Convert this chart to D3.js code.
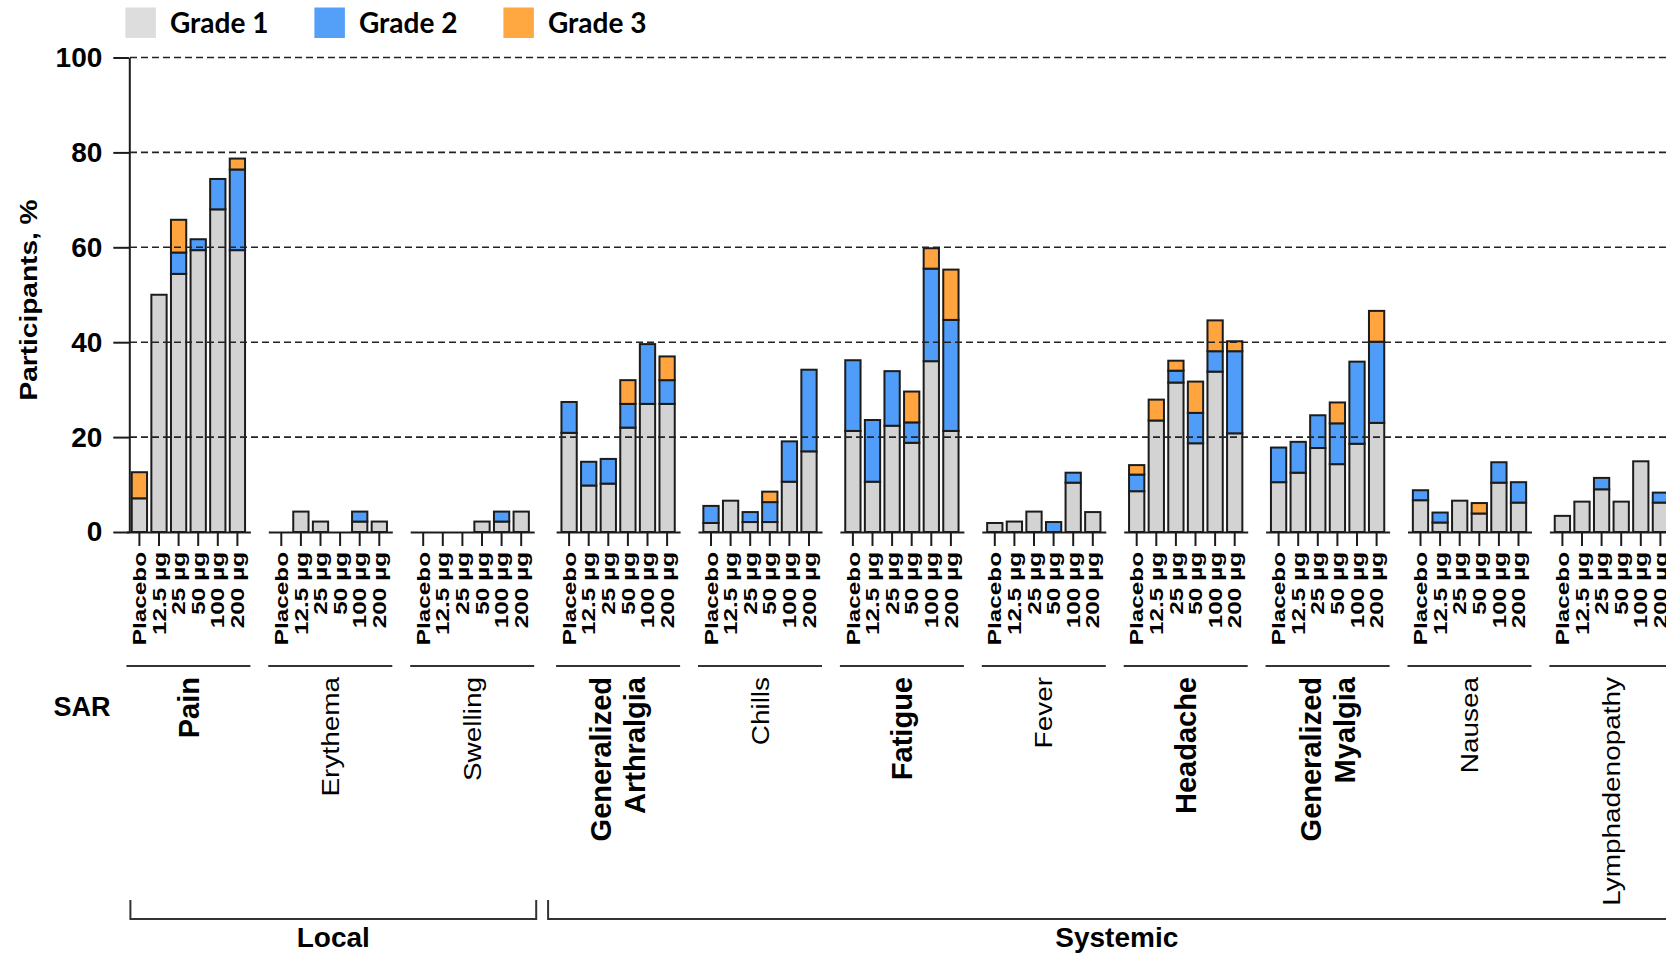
<!DOCTYPE html>
<html>
<head>
<meta charset="utf-8">
<script src="https://cdn.jsdelivr.net/npm/d3@7"></script>
<style>
  body { margin: 0; background: #fff; }
  svg { display: block; }
</style>
</head>
<body>
<div id="chart"></div>
<script>
// ---- data (% of participants) ----
const doses = ["Placebo", "12.5 µg", "25 µg", "50 µg", "100 µg", "200 µg"];
const reactions = ["Pain", "Erythema", "Swelling", "Generalized Arthralgia", "Chills", "Fatigue",
    "Fever", "Headache", "Generalized Myalgia", "Nausea", "Lymphadenopathy"];
const reactionType = ["Local", "Local", "Local", "Systemic", "Systemic", "Systemic",
    "Systemic", "Systemic", "Systemic", "Systemic", "Systemic"];
const gradeNames = ["Grade 1", "Grade 2", "Grade 3"];
const yTicks = [0, 20, 40, 60, 80, 100];

const grade1 = [
    [7.1, 50, 54.4, 59.4, 68, 59.4],
    [0, 4.3, 2.2, 0, 2.2, 2.2],
    [0, 0, 0, 2.2, 2.2, 4.3],
    [20.9, 9.8, 10.2, 22, 27, 27],
    [1.9, 6.6, 2.1, 2.1, 10.6, 17],
    [21.3, 10.6, 22.4, 18.8, 36, 21.3],
    [1.9, 2.2, 4.3, 0, 10.4, 4.2],
    [8.6, 23.5, 31.5, 18.7, 33.8, 20.8],
    [10.5, 12.5, 17.7, 14.3, 18.6, 23],
    [6.7, 2.0, 6.6, 3.9, 10.4, 6.2],
    [3.4, 6.4, 9.0, 6.4, 14.9, 6.2]
];
const grade2 = [
    [0, 0, 4.5, 2.3, 6.4, 17],
    [0, 0, 0, 0, 2.1, 0],
    [0, 0, 0, 0, 2.1, 0],
    [6.5, 5, 5.2, 5, 12.6, 5],
    [3.6, 0, 2.1, 4.2, 8.5, 17.2],
    [14.9, 13, 11.5, 4.3, 19.5, 23.4],
    [0, 0, 0, 2.1, 2.1, 0],
    [3.5, 0, 2.5, 6.4, 4.3, 17.3],
    [7.3, 6.5, 6.9, 8.6, 17.3, 17.1],
    [2.1, 2.1, 0, 0, 4.3, 4.3],
    [0, 0, 2.4, 0, 0, 2.1]
];
const grade3 = [
    [5.5, 0, 6.9, 0, 0, 2.3],
    [0, 0, 0, 0, 0, 0],
    [0, 0, 0, 0, 0, 0],
    [0, 0, 0, 5, 0, 5],
    [0, 0, 0, 2.2, 0, 0],
    [0, 0, 0, 6.5, 4.3, 10.6],
    [0, 0, 0, 0, 0, 0],
    [2.0, 4.4, 2.1, 6.6, 6.5, 2.1],
    [0, 0, 0, 4.4, 0, 6.5],
    [0, 0, 0, 2.2, 0, 0],
    [0, 0, 0, 0, 0, 0]
];

(() => {
    const width = 1666;
    const height = 955;
    const colors = ["#d3d3d3", "#4f9df8", "#ffa43e"];
    const legendColors = ["#dddddd", "#54a0f8", "#ffa842"];
    const ink = "#1c1c1c";
    const boldLabels = ["Pain", "Generalized Arthralgia", "Fatigue", "Headache", "Generalized Myalgia"];

    const svg = d3.select("#chart")
        .append("svg")
        .attr("width", width)
        .attr("height", height);

    const yScale = d3.scaleLinear().domain([0, 100]).range([532, 57.5]);

    // groups are laid out at a fixed step, systemic block nudged right a little
    const groupScale = d3.scaleBand()
        .domain(reactions)
        .range([126.4, 126.4 + reactions.length * 141.9])
        .padding(0);
    const groupX = (name, i) => groupScale(name) + (reactionType[i] === "Systemic" ? 4 : 0);
    const groupW = 124;

    const doseScale = d3.scaleBand()
        .domain(doses)
        .range([0, groupW])
        .paddingInner(0.22)
        .paddingOuter(0.273);

    // stacked data per reaction
    const stack = d3.stack().keys(["g1", "g2", "g3"]);

    reactions.forEach((name, i) => {
        const rows = doses.map((dose, j) => ({
            dose: dose,
            g1: grade1[i][j],
            g2: grade2[i][j],
            g3: grade3[i][j]
        }));
        const series = stack(rows);

        const g = svg.append("g")
            .attr("transform", `translate(${groupX(name, i)}, 0)`);

        series.forEach((s, k) => {
            g.selectAll(null)
                .data(s.filter(d => d[1] - d[0] > 0))
                .enter()
                .append("rect")
                .attr("x", d => doseScale(d.data.dose))
                .attr("y", d => yScale(d[1]))
                .attr("width", doseScale.bandwidth())
                .attr("height", d => yScale(d[0]) - yScale(d[1]))
                .attr("fill", colors[k])
                .attr("stroke", ink)
                .attr("stroke-width", 2);
        });

        // per-group baseline with dose ticks
        const axis = g.append("g")
            .attr("transform", `translate(0, ${yScale(0)})`)
            .call(d3.axisBottom(doseScale).tickSize(14).tickSizeOuter(0));
        axis.select(".domain").attr("stroke", ink).attr("stroke-width", 2);
        axis.selectAll(".tick line").attr("stroke", ink).attr("stroke-width", 2);
        axis.selectAll(".tick text")
            .attr("x", 0)
            .attr("y", 0)
            .attr("dy", "0.35em")
            .attr("transform", "translate(0, 20) rotate(-90) scale(1.28, 1)")
            .attr("text-anchor", "end")
            .style("font-family", "'Liberation Sans', Arial, sans-serif")
            .style("font-weight", "bold")
            .style("font-size", "19px")
            .style("fill", "#000");

        // underline below dose labels
        g.append("line")
            .attr("x1", 0)
            .attr("x2", groupW)
            .attr("y1", 666)
            .attr("y2", 666)
            .attr("stroke", "#333")
            .attr("stroke-width", 2);

        // reaction label
        const bold = boldLabels.includes(name);
        const lines = name.includes("Generalized") ? ["Generalized", name.replace("Generalized ", "")] : [name];
        lines.forEach((line, li) => {
            const off = lines.length === 1 ? 0 : (li === 0 ? -17 : 17);
            g.append("text")
                .attr("transform", `translate(${groupW / 2 + off}, 677) rotate(-90) scale(${bold ? 1.0 : 1.14}, 1)`)
                .attr("dy", "0.35em")
                .attr("text-anchor", "end")
                .style("font-family", "'Liberation Sans', Arial, sans-serif")
                .style("font-weight", bold ? "bold" : "normal")
                .style("font-size", bold ? "29px" : "24.5px")
                .style("fill", "#000")
                .text(line);
        });
    });

    // y axis
    const yAxis = svg.append("g")
        .attr("transform", "translate(129.3, 0)")
        .call(d3.axisLeft(yScale).tickValues(yTicks).tickSize(16).tickSizeOuter(0).tickPadding(11));
    yAxis.select(".domain").attr("stroke", ink).attr("stroke-width", 2);
    yAxis.selectAll(".tick line").attr("stroke", ink).attr("stroke-width", 2);
    yAxis.selectAll(".tick text")
        .style("font-family", "'Liberation Sans', Arial, sans-serif")
        .style("font-weight", "bold")
        .style("font-size", "28px")
        .style("fill", "#000");

    // dashed gridlines, drawn over the bars as in the figure
    svg.append("g")
        .selectAll("line")
        .data(yTicks.filter(t => t > 0))
        .enter()
        .append("line")
        .attr("x1", 130)
        .attr("x2", width)
        .attr("y1", d => yScale(d))
        .attr("y2", d => yScale(d))
        .attr("stroke", "#222")
        .attr("stroke-width", 1.6)
        .attr("stroke-dasharray", "7,4");

    svg.append("text")
        .attr("transform", "translate(37, 300) rotate(-90) scale(1.22, 1)")
        .attr("text-anchor", "middle")
        .style("font-family", "'Liberation Sans', Arial, sans-serif")
        .style("font-weight", "bold")
        .style("font-size", "23px")
        .text("Participants, %");

    svg.append("text")
        .attr("x", 82)
        .attr("y", 707)
        .attr("dy", "0.35em")
        .attr("text-anchor", "middle")
        .style("font-family", "'Liberation Sans', Arial, sans-serif")
        .style("font-weight", "bold")
        .style("font-size", "27px")
        .text("SAR");

    // Local / Systemic brackets
    const blocks = ["Local", "Systemic"].map(type => {
        const idx = reactions.map((r, i) => i).filter(i => reactionType[i] === type);
        const first = idx[0];
        const last = idx[idx.length - 1];
        return {
            type: type,
            x1: groupX(reactions[first], first) + (type === "Local" ? 4 : -8),
            x2: groupX(reactions[last], last) + groupW + (type === "Local" ? 2 : 12)
        };
    });

    blocks.forEach(b => {
        svg.append("path")
            .attr("d", `M${b.x1},900 V919 H${b.x2} V900`)
            .attr("fill", "none")
            .attr("stroke", "#333")
            .attr("stroke-width", 2);
        svg.append("text")
            .attr("x", (b.x1 + b.x2) / 2)
            .attr("y", 947)
            .attr("text-anchor", "middle")
            .style("font-family", "'Liberation Sans', Arial, sans-serif")
            .style("font-weight", "bold")
            .style("font-size", "28px")
            .text(b.type);
    });

    // legend
    const legend = svg.append("g").attr("transform", "translate(125.4, 7.5)");
    gradeNames.forEach((gname, i) => {
        const item = legend.append("g").attr("transform", `translate(${i * 189}, 0)`);
        item.append("rect")
            .attr("width", 30.5)
            .attr("height", 30.5)
            .attr("fill", legendColors[i]);
        item.append("text")
            .attr("x", 44.5)
            .attr("y", 15)
            .attr("dy", "0.36em")
            .style("font-family", "Lato, 'Noto Sans', sans-serif")
            .style("font-weight", "bold")
            .style("font-size", "28px")
            .text(gname);
    });
})();
</script>
</body>
</html>
